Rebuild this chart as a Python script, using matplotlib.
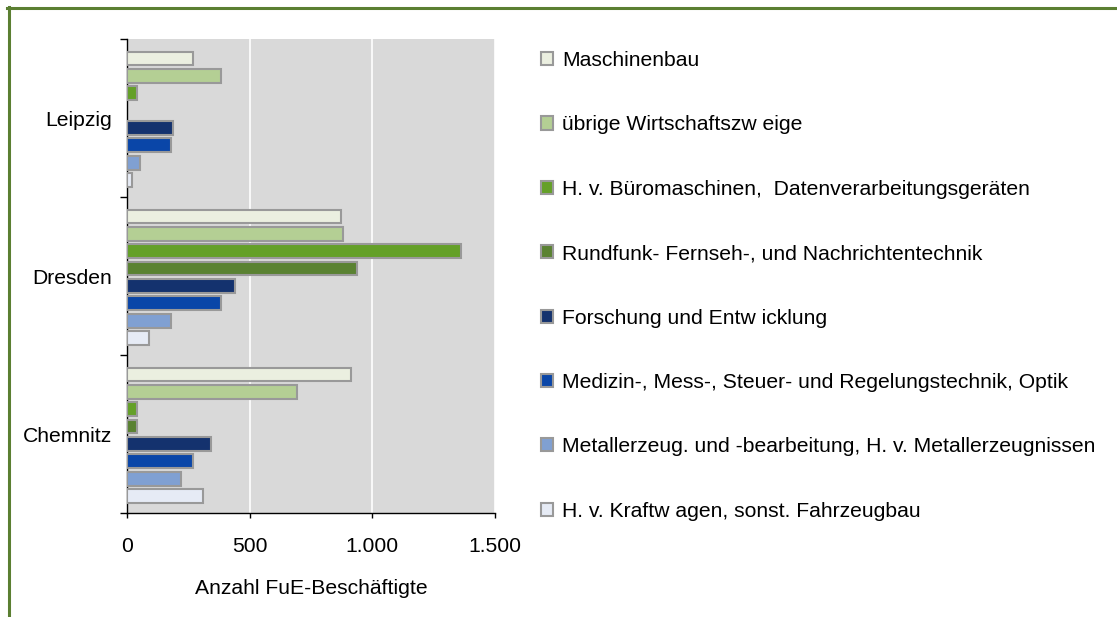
import numpy as np
import matplotlib
matplotlib.use("Agg")
import matplotlib.pyplot as plt
from matplotlib.lines import Line2D

plt.rcParams['font.family'] = ['Liberation Sans', 'DejaVu Sans']

# data
cities = ["Leipzig", "Dresden", "Chemnitz"]
series = [
    "Maschinenbau",
    "übrige Wirtschaftszw eige",
    "H. v. Büromaschinen,  Datenverarbeitungsgeräten",
    "Rundfunk- Fernseh-, und Nachrichtentechnik",
    "Forschung und Entw icklung",
    "Medizin-, Mess-, Steuer- und Regelungstechnik, Optik",
    "Metallerzeug. und -bearbeitung, H. v. Metallerzeugnissen",
    "H. v. Kraftw agen, sonst. Fahrzeugbau",
]
maschinenbau = [270, 873, 913]
uebrige = [384, 881, 694]
bueromaschinen = [41, 1361, 42]
rundfunk = [0, 938, 42]
forschung = [187, 441, 343]
medizin = [181, 383, 270]
metall = [52, 181, 221]
kraftwagen = [19, 91, 311]
values = [maschinenbau, uebrige, bueromaschinen, rundfunk,
          forschung, medizin, metall, kraftwagen]
xticks = [0, 500, 1000, 1500]
xticklabels = ["0", "500", "1.000", "1.500"]

colors = ["#EBEFE0", "#B4CF94", "#64A028", "#5A8232",
          "#14326E", "#0A46A8", "#80A0D2", "#E6EBF5"]

fs = 15.2

fig = plt.figure(figsize=(11.17, 6.17), dpi=100)
ax = fig.add_axes([127 / 1117, 1 - 513 / 617, 368 / 1117, 474 / 617])
ax.set_facecolor("#D9D9D9")

slot = 0.11
bar_h = 0.087
y0 = np.arange(len(cities)) + 0.5
for j, (name, vals, col) in enumerate(zip(series, values, colors)):
    ys = y0 + (j - 3.5) * slot + 0.008
    w = np.array(vals, dtype=float)
    w[w == 0] = np.nan
    ax.barh(ys, w, height=bar_h, color=col, edgecolor="#999999",
            linewidth=1.5, label=name, zorder=3)

ax.set_xlim(0, 1500)
ax.set_ylim(3, 0)
ax.set_xticks(xticks)
ax.set_xticklabels(xticklabels, fontsize=fs)
ax.set_yticks([0, 1, 2, 3])
ax.set_yticklabels([])
ax.set_yticks(y0, minor=True)
ax.set_yticklabels(cities, minor=True, fontsize=fs)
ax.tick_params(axis="y", which="major", length=5, width=1)
ax.tick_params(axis="y", which="minor", length=0, pad=11)
ax.tick_params(axis="x", length=3.5, width=1, pad=13.5)
ax.grid(axis="x", color="white", linewidth=1.2, zorder=0)
ax.set_axisbelow(True)
for s in ["top", "right"]:
    ax.spines[s].set_visible(False)
ax.spines["left"].set_linewidth(1)
ax.spines["bottom"].set_linewidth(1)

ax.set_xlabel("Anzahl FuE-Beschäftigte", fontsize=fs, labelpad=17)

leg = ax.legend(loc="upper left", bbox_to_anchor=(541 / 1117, 1 - 51 / 617),
                bbox_transform=fig.transFigure, frameon=False, fontsize=fs,
                handlelength=0.58, handleheight=0.58, handletextpad=0.42,
                labelspacing=2.15, borderpad=0, borderaxespad=0)

# green frame (top and left edges visible)
green = "#5B7F32"
fig.add_artist(Line2D([7 / 1117, 1], [1 - 8 / 617, 1 - 8 / 617],
                      transform=fig.transFigure, color=green, linewidth=2.2))
fig.add_artist(Line2D([8.5 / 1117, 8.5 / 1117], [0, 1 - 7 / 617],
                      transform=fig.transFigure, color=green, linewidth=2.2))

fig.savefig("out.png", dpi=100)
